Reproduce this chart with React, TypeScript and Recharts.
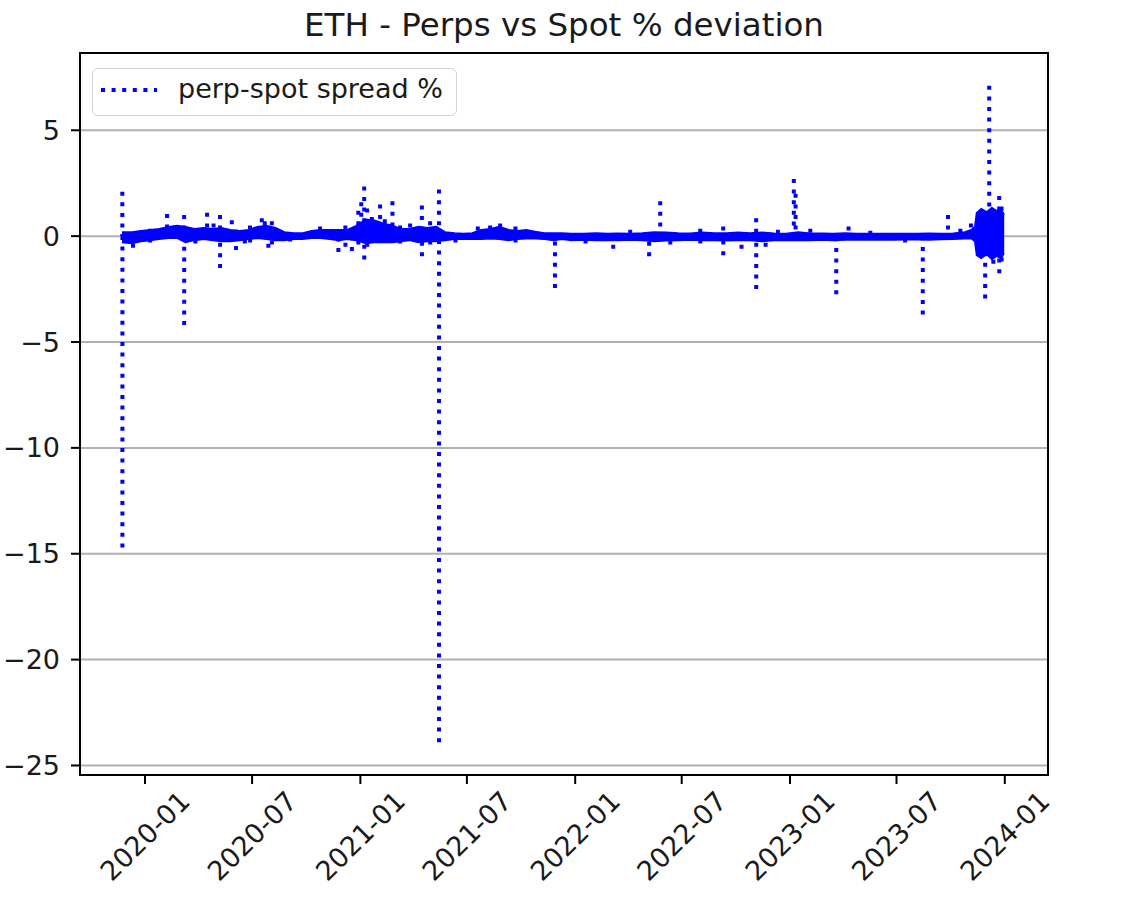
import React from 'react';
import { ComposedChart, Line, Area, XAxis, YAxis, CartesianGrid } from 'recharts';

const HOUR = 3600000;
const toT = (s: string) => Date.parse(s.length === 7 ? s + '-01T00:00:00Z' : s.length === 10 ? s + 'T00:00:00Z' : s);

const titleText = 'ETH - Perps vs Spot % deviation';
const legendLabel = 'perp-spot spread %';
const xTickLabels = ['2020-01', '2020-07', '2021-01', '2021-07', '2022-01', '2022-07', '2023-01', '2023-07', '2024-01'];
const yTicks = [-25, -20, -15, -10, -5, 0, 5];
const xDomainDates = ['2019-09-12T14:00:00Z', '2024-03-14T10:00:00Z'];
const yDomain = [-25.45, 8.65];

// dense noise band around zero (envelope of the hourly series)
const bandDates = [
  '2019-11-23', '2019-12-10', '2019-12-25', '2020-01-10', '2020-01-25', '2020-02-10', '2020-02-25', '2020-03-10',
  '2020-03-25', '2020-04-10', '2020-04-25', '2020-05-10', '2020-05-25', '2020-06-10', '2020-06-25', '2020-07-10',
  '2020-07-25', '2020-08-10', '2020-08-25', '2020-09-10', '2020-09-25', '2020-10-10', '2020-10-25', '2020-11-10',
  '2020-11-25', '2020-12-10', '2020-12-25', '2021-01-10', '2021-01-25', '2021-02-10', '2021-02-25', '2021-03-10',
  '2021-03-25', '2021-04-10', '2021-04-25', '2021-05-10', '2021-05-25', '2021-06-10', '2021-06-25', '2021-07-10',
  '2021-07-25', '2021-08-10', '2021-08-25', '2021-09-10', '2021-09-25', '2021-10-10', '2021-10-25', '2021-11-10',
  '2021-11-25', '2021-12-10', '2021-12-25', '2022-01-15', '2022-02-05', '2022-02-25', '2022-03-15', '2022-04-05',
  '2022-04-25', '2022-05-15', '2022-06-05', '2022-06-25', '2022-07-15', '2022-08-05', '2022-08-25', '2022-09-15',
  '2022-10-05', '2022-10-25', '2022-11-15', '2022-12-05', '2022-12-25', '2023-01-15', '2023-02-05', '2023-02-25',
  '2023-03-15', '2023-04-05', '2023-04-25', '2023-05-15', '2023-06-05', '2023-06-25', '2023-07-15', '2023-08-05',
  '2023-08-25', '2023-09-15', '2023-10-05', '2023-10-25', '2023-11-05', '2023-11-11', '2023-11-14', '2023-11-22',
  '2023-12-01', '2023-12-10', '2023-12-18', '2023-12-26', '2023-12-31',
];
const bandHigh = [
  0.2, 0.2, 0.25, 0.3, 0.35, 0.45, 0.5, 0.45,
  0.35, 0.4, 0.35, 0.4, 0.3, 0.25, 0.3, 0.45,
  0.5, 0.4, 0.2, 0.15, 0.15, 0.25, 0.3, 0.3,
  0.3, 0.3, 0.5, 0.8, 0.75, 0.6, 0.5, 0.35,
  0.35, 0.45, 0.4, 0.45, 0.2, 0.15, 0.12, 0.15,
  0.3, 0.35, 0.45, 0.3, 0.25, 0.3, 0.22, 0.15,
  0.15, 0.15, 0.12, 0.12, 0.15, 0.12, 0.14, 0.12,
  0.15, 0.2, 0.18, 0.15, 0.14, 0.18, 0.15, 0.15,
  0.18, 0.15, 0.18, 0.14, 0.12, 0.2, 0.14, 0.14,
  0.12, 0.15, 0.12, 0.13, 0.12, 0.12, 0.13, 0.12,
  0.14, 0.12, 0.14, 0.2, 0.3, 0.45, 1.1, 1.3,
  1.15, 1.35, 1.2, 1.3, 1.0,
];
const bandLow = [
  -0.3, -0.35, -0.25, -0.2, -0.15, -0.1, -0.1, -0.3,
  -0.2, -0.15, -0.2, -0.25, -0.25, -0.2, -0.15, -0.1,
  -0.15, -0.2, -0.2, -0.15, -0.15, -0.1, -0.1, -0.15,
  -0.2, -0.15, -0.2, -0.35, -0.3, -0.3, -0.3, -0.25,
  -0.2, -0.3, -0.25, -0.25, -0.2, -0.15, -0.15, -0.15,
  -0.15, -0.12, -0.15, -0.2, -0.15, -0.12, -0.12, -0.15,
  -0.2, -0.15, -0.2, -0.18, -0.2, -0.2, -0.2, -0.18,
  -0.2, -0.25, -0.22, -0.2, -0.18, -0.2, -0.2, -0.22,
  -0.2, -0.2, -0.25, -0.2, -0.2, -0.2, -0.2, -0.18,
  -0.2, -0.18, -0.17, -0.18, -0.17, -0.18, -0.17, -0.17,
  -0.18, -0.16, -0.15, -0.12, -0.12, -0.25, -0.9, -1.05,
  -0.85, -1.1, -0.95, -1.05, -0.8,
];

// isolated spikes of the hourly series
const spikeDates = [
  '2019-11-23', '2019-12-11', '2020-02-07', '2020-03-07', '2020-04-15', '2020-05-07', '2020-05-27', '2020-06-03',
  '2020-06-18', '2020-07-17', '2020-07-22', '2020-07-28', '2020-08-03', '2020-11-24', '2020-12-17', '2020-12-28',
  '2021-01-02', '2021-01-07', '2021-01-12', '2021-01-20', '2021-02-03', '2021-02-11', '2021-02-24', '2021-04-15',
  '2021-05-14', '2021-07-19', '2021-08-26', '2021-11-27', '2022-03-06', '2022-05-06', '2022-05-25', '2022-06-11',
  '2022-09-09', '2022-10-10', '2022-11-04', '2022-12-11', '2023-01-07', '2023-01-10', '2023-03-20', '2023-04-10',
  '2023-08-14', '2023-09-26', '2023-11-04', '2023-11-23', '2023-11-28', '2023-12-05', '2023-12-12', '2023-12-22',
  '2023-12-26',
];
const spikeHigh = [
  2.1, 0.2, 1.05, 1.0, 1.1, 1.0, 0.75, 0.3,
  0.2, 0.85, 0.7, 0.3, 0.7, 0.3, 0.2, 1.2,
  1.6, 2.35, 1.3, 0.9, 1.5, 0.8, 1.65, 1.45,
  2.2, 0.45, 0.6, 0, 0, 0, 1.65, 0,
  0.45, 0, 0.85, 0.3, 2.7, 2.0, 0, 0.45,
  0, 1.0, 0.6, 1.25, 0.8, 7.1, 1.2, 1.9,
  1.4,
];
const spikeLow = [
  -14.7, -0.55, 0, -4.2, 0, -1.5, 0, -0.65,
  -0.35, 0, 0, -0.55, -0.4, -0.75, -0.7, -0.4,
  -0.2, -1.1, -0.5, -0.3, -0.2, 0, 0, -0.95,
  -23.9, 0, 0, -2.45, -0.6, -0.95, 0, -0.4,
  -0.9, -0.6, -2.5, 0, 0, 0.1, -2.75, 0,
  -3.7, 0, 0, -1.0, -2.95, -0.9, -1.3, -1.75,
  -1.2,
];

// small excursions just outside the band
const minorDates = [
  '2020-01-09', '2020-02-21', '2020-03-26', '2020-04-26', '2020-06-27', '2020-09-03', '2020-10-24', '2020-12-06',
  '2021-03-09', '2021-03-26', '2021-04-29', '2021-06-11', '2021-08-09', '2021-09-21', '2022-01-18', '2022-04-04',
  '2022-08-01', '2022-11-20', '2023-02-04', '2023-05-17', '2023-07-15', '2023-10-17',
];
const minorHigh = [
  0.35, 0.5, 0, 0.6, 0.5, 0, 0.45, 0.5,
  0.5, 0.6, 0.7, 0, 0.5, 0.45, 0, 0.3,
  0.35, 0, 0.35, 0.25, 0, 0.35,
];
const minorLow = [
  -0.3, 0, -0.35, 0, -0.3, -0.25, 0, -0.5,
  -0.35, 0, -0.4, -0.3, 0, -0.3, -0.35, 0,
  -0.35, -0.5, 0, 0, -0.3, 0,
];

const bandData = bandDates.map((d, i) => ({ t: toT(d), band: [bandLow[i], bandHigh[i]] }));
const lineData: { t: number; v: number | null }[] = [];
// each excursion is drawn from its tip back to the band, so the tip always carries a dot
const pushSpikes = (dates: string[], hi: number[], lo: number[]) => {
  dates.forEach((d, i) => {
    const t0 = toT(d) + 12 * HOUR;
    if (hi[i] > 0.12) {
      lineData.push({ t: t0, v: hi[i] });
      lineData.push({ t: t0 + HOUR, v: Math.min(0, Math.max(lo[i], 0)) });
      lineData.push({ t: t0 + 2 * HOUR, v: null });
    }
    if (lo[i] < -0.12) {
      lineData.push({ t: t0 + 3 * HOUR, v: lo[i] });
      lineData.push({ t: t0 + 4 * HOUR, v: 0 });
      lineData.push({ t: t0 + 5 * HOUR, v: null });
    }
  });
};
pushSpikes(spikeDates, spikeHigh, spikeLow);
pushSpikes(minorDates, minorHigh, minorLow);

const xTicks = xTickLabels.map((l) => toT(l));
const xDomain = xDomainDates.map((d) => toT(d));

const FONT = '"DejaVu Sans", sans-serif';
const TEXT = '#1a1a1a';
const BLUE = '#0000ff';
const FS = 27;

const XTick = (props: any) => {
  const { x, y, payload } = props;
  const idx = xTicks.indexOf(payload.value);
  const label = idx >= 0 ? xTickLabels[idx] : '';
  return (
    <g transform={`translate(${x},${y + 52}) rotate(-45)`}>
      <text x={0} y={0} textAnchor="middle" dominantBaseline="central" fontSize={FS} fontFamily={FONT} fill={TEXT}>
        {label}
      </text>
    </g>
  );
};

const fmtY = (v: number) => (v < 0 ? '\u2212' + Math.abs(v) : String(v));

export default function App() {
  return (
    <div style={{ position: 'absolute', left: 0, top: 0, width: 1132, height: 914, background: '#fff', overflow: 'hidden' }}>
      <ComposedChart width={1132} height={914} margin={{ top: 53, right: 84, bottom: 0, left: 0 }}>
        <CartesianGrid vertical={false} stroke="#b0b0b0" strokeWidth={2} />
        <XAxis
          dataKey="t"
          type="number"
          domain={xDomain}
          allowDataOverflow
          ticks={xTicks}
          interval={0}
          tick={<XTick />}
          tickSize={9}
          tickMargin={0}
          height={139}
          axisLine={false}
          tickLine={{ stroke: '#000', strokeWidth: 2 }}
        />
        <YAxis
          type="number"
          domain={yDomain}
          allowDataOverflow
          ticks={yTicks}
          interval={0}
          tickFormatter={fmtY}
          width={80}
          tickSize={9}
          tickMargin={11}
          tick={{ fontSize: FS, fontFamily: FONT, fill: TEXT }}
          axisLine={false}
          tickLine={{ stroke: '#000', strokeWidth: 2 }}
        />
        <Area
          data={bandData}
          dataKey="band"
          type="linear"
          fill={BLUE}
          fillOpacity={1}
          stroke={BLUE}
          strokeWidth={1.5}
          dot={false}
          activeDot={false}
          isAnimationActive={false}
        />
        <Line
          data={lineData}
          dataKey="v"
          type="linear"
          stroke={BLUE}
          strokeWidth={4}
          strokeDasharray="4 6.6"
          dot={false}
          activeDot={false}
          connectNulls={false}
          isAnimationActive={false}
        />
      </ComposedChart>
      <div
        style={{
          position: 'absolute',
          left: 79,
          top: 52,
          width: 970,
          height: 724,
          boxSizing: 'border-box',
          border: '2px solid #000',
          pointerEvents: 'none',
        }}
      />
      <div
        style={{
          position: 'absolute',
          left: 80,
          top: 6,
          width: 968,
          textAlign: 'center',
          fontFamily: FONT,
          fontSize: 32.5,
          lineHeight: '38px',
          color: TEXT,
          whiteSpace: 'nowrap',
        }}
      >
        {titleText}
      </div>
      <div
        style={{
          position: 'absolute',
          left: 92,
          top: 68,
          width: 365,
          height: 48,
          boxSizing: 'border-box',
          border: '1.5px solid #d4d4d4',
          borderRadius: 6,
          background: 'rgba(255,255,255,0.8)',
        }}
      >
        <svg width={60} height={8} style={{ position: 'absolute', left: 7.5, top: 16.5 }}>
          <line x1={0} y1={4} x2={56} y2={4} stroke={BLUE} strokeWidth={4} strokeDasharray="4 6.6" />
        </svg>
        <span
          style={{
            position: 'absolute',
            left: 85,
            top: 4,
            fontFamily: FONT,
            fontSize: FS,
            lineHeight: '32px',
            color: TEXT,
            whiteSpace: 'nowrap',
          }}
        >
          {legendLabel}
        </span>
      </div>
    </div>
  );
}
